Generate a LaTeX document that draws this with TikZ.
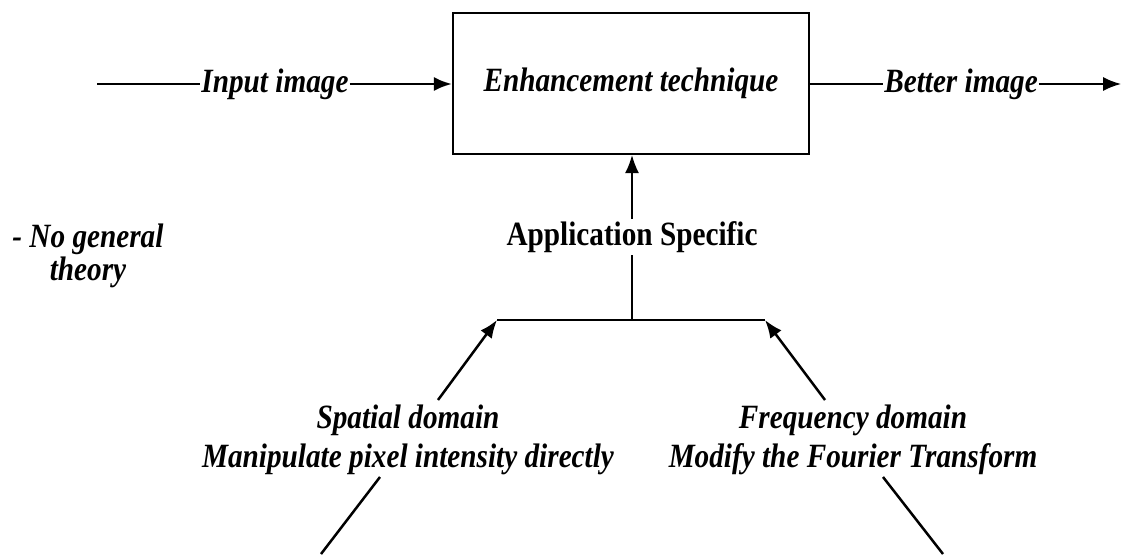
\documentclass[tikz,border=0pt]{standalone}
\usepackage{fontspec}
\setmainfont{Liberation Serif}[FakeStretch=0.86]
\usetikzlibrary{arrows.meta}
\begin{document}
\begin{tikzpicture}[x=1pt,y=-1pt,
  lbl/.style={font=\fontsize{34}{39}\selectfont\bfseries\itshape, inner sep=1pt, align=center},
  hd/.style={font=\fontsize{34}{39}\selectfont\bfseries, inner sep=2pt, align=center},
  boxst/.style={draw, line width=2.2pt, minimum width=356pt, minimum height=141pt, inner sep=0pt},
  wire/.style={line width=2.5pt},
  thin/.style={line width=1.6pt},
  arr/.style={-{Latex[length=18pt,width=14pt]}}]
\useasboundingbox (0,0) rectangle (1126,554);
% box
\node[boxst, lbl] (box) at (631,83.5) {Enhancement technique};
% input
\coordinate (inS) at (97,84);
\node[lbl] (inT) at (275,84) {Input image};
\draw[wire] (inS) -- (inT.west);
\draw[wire,arr] (inT.east) -- (box.west |- inT.east);
% output
\node[lbl] (outT) at (961,84) {Better image};
\coordinate (outE) at (1121,84);
\draw[thin] (box.east |- outT.west) -- (outT.west);
\draw[thin,arr] (outT.east) -- (outE);
% note
\node[lbl, font=\fontsize{34}{33}\selectfont\bfseries\itshape] (note) at (88,256) {- No general\\theory};
% application specific
\node[hd] (app) at (632,237) {Application Specific};
\coordinate (barL) at (497,320);
\coordinate (barR) at (765,320);
\coordinate (barM) at (632,320);
\draw[wire] (barL) -- (barR);
\draw[thin] (barM) -- (app.south);
\draw[thin,arr] (app.north) -- (box.south -| barM);
% spatial
\node[lbl] (spat) at (408,440) {Spatial domain\\Manipulate pixel intensity directly};
\coordinate (sBot) at (321,554);
\coordinate (sLow) at (380,477);
\coordinate (sHigh) at (438,400);
\draw[wire] (sBot) -- (sLow);
\draw[wire,arr] (sHigh) -- (barL);
% frequency
\node[lbl] (freq) at (853,440) {Frequency domain\\Modify the Fourier Transform};
\coordinate (fBot) at (943,554);
\coordinate (fLow) at (883,477);
\coordinate (fHigh) at (825,400);
\draw[wire] (fBot) -- (fLow);
\draw[wire,arr] (fHigh) -- (barR);
\end{tikzpicture}
\end{document}
